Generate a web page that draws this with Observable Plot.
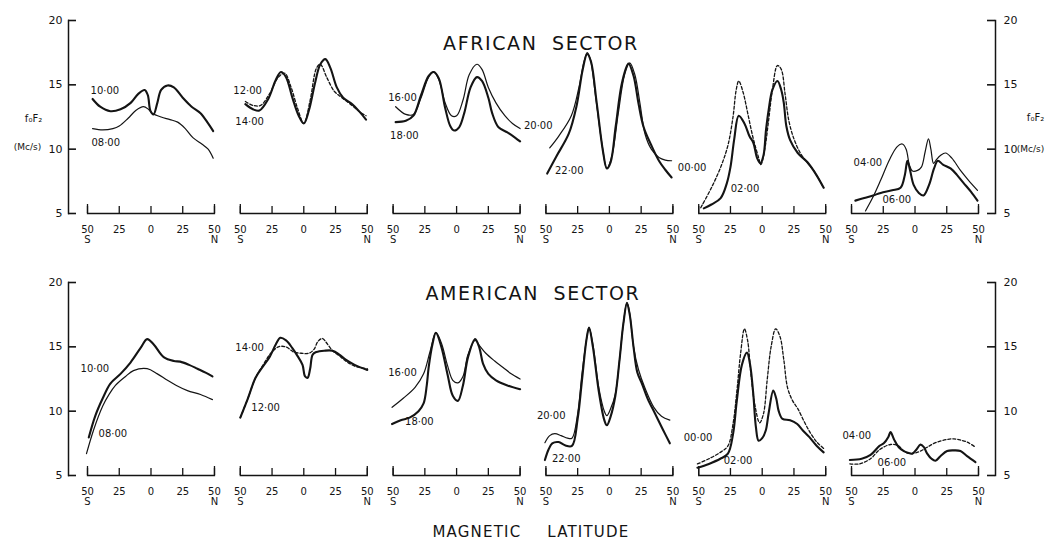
<!DOCTYPE html>
<html><head><meta charset="utf-8">
<script src="https://cdn.jsdelivr.net/npm/d3@7"></script>
<script src="https://cdn.jsdelivr.net/npm/@observablehq/plot@0.6"></script>
<style>
body{margin:0;background:#fff;}
#chart{width:1052px;height:547px;}
</style></head><body><div id="chart"></div>
<script>
const sectors = ["AFRICAN SECTOR", "AMERICAN SECTOR"];
const panels = [0, 1, 2, 3, 4, 5];
const latTicks = [-50, -25, 0, 25, 50];
const foTicks = [5, 10, 15, 20];

// African sector: [magnetic latitude (deg), foF2 (Mc/s)]
const afr0800 = [[-46,11.6],[-38,11.5],[-30,11.6],[-25,11.8],[-18,12.4],[-12,13.0],[-6,13.3],[-2,13.1],[1,12.8],[8,12.5],[15,12.3],[21,12.1],[27,11.6],[33,10.9],[40,10.4],[45,10.0],[49,9.3]];
const afr1000 = [[-46,13.9],[-40,13.3],[-32,12.95],[-24,13.1],[-16,13.6],[-10,14.3],[-5,14.6],[-2.5,14.2],[-0.5,13.0],[2,12.7],[5,13.6],[8,14.6],[13,14.95],[18,14.8],[25,14.0],[32,13.3],[39,12.8],[45,12.0],[49,11.4]];
const afr1200 = [[-46,13.7],[-40,13.4],[-34,13.4],[-27,14.3],[-20,15.6],[-15,15.9],[-10,14.8],[-5,13.2],[0,12.0],[5,13.8],[10,16.3],[13,16.6],[18,15.6],[24,14.5],[30,14.0],[38,13.4],[44,12.9],[49,12.6]];
const afr1400 = [[-46,13.5],[-40,13.1],[-35,13.0],[-28,13.9],[-22,15.4],[-18,16.0],[-14,15.6],[-9,14.0],[-4,12.6],[0,12.0],[4,13.0],[9,15.2],[13,16.6],[17,17.0],[21,16.3],[26,14.8],[31,14.0],[38,13.5],[44,12.9],[49,12.3]];
const afr1600 = [[-48,13.3],[-40,12.7],[-34,12.7],[-28,14.0],[-22,15.6],[-18,16.0],[-14,15.4],[-9,13.6],[-4,12.6],[0,12.6],[5,13.8],[10,15.8],[16,16.6],[20,16.2],[25,14.8],[31,13.6],[38,12.6],[44,12.0],[50,11.6]];
const afr1800 = [[-48,12.1],[-40,12.2],[-34,12.6],[-28,14.2],[-22,15.7],[-18,16.0],[-14,15.5],[-9,13.2],[-5,11.8],[-2,11.45],[2,11.7],[6,12.8],[11,14.8],[16,15.6],[20,15.3],[25,14.0],[28,12.8],[33,11.7],[40,11.3],[46,10.9],[50,10.6]];
const afr2000 = [[-47,10.1],[-40,11.0],[-30,12.6],[-24,14.8],[-20,16.8],[-17.5,17.5],[-15,17.0],[-11,14.2],[-6,10.5],[-2,8.5],[2,9.5],[7,12.8],[12,15.8],[16,16.7],[20,15.8],[24,13.6],[28,11.2],[33,10.0],[39,9.35],[44,9.15],[49,9.1]];
const afr2200 = [[-49,8.1],[-42,9.4],[-32,11.2],[-26,13.3],[-21,16.2],[-17.5,17.4],[-14.5,16.8],[-10,13.6],[-5,9.8],[-2,8.5],[1,9.0],[5,11.8],[10,15.2],[15,16.65],[19,15.7],[23,13.5],[27,11.7],[33,10.3],[39,9.1],[44,8.4],[49,7.8]];
const afr0000 = [[-48.4,5.45],[-40,7.0],[-32.7,8.6],[-27,10.3],[-23,12.5],[-20.5,14.6],[-18.5,15.3],[-15,14.4],[-11,12.6],[-7,10.8],[-3,9.4],[-1,8.8],[2,10.0],[5,12.2],[8,14.6],[12,16.5],[15,16.2],[18,14.3],[21,12.2],[25,10.8],[30,9.7],[35,9.0],[40.5,8.35],[45,7.6],[48.4,7.0]];
const afr0200 = [[-46,5.4],[-40,5.7],[-32.7,6.2],[-28,7.3],[-25,8.6],[-22,10.8],[-18.5,12.6],[-14,12.0],[-10,11.0],[-7,10.5],[-4,9.3],[-1.5,8.9],[1,9.5],[3,11.5],[5,13.0],[8,14.6],[12,15.3],[15,14.6],[17,13.6],[19,11.8],[22,10.7],[28,9.7],[35.5,9.0],[42,8.1],[48.4,7.0]];
const afr0400 = [[-39,5.2],[-33,6.3],[-27,7.6],[-20,9.2],[-14,10.2],[-10,10.4],[-7,10.0],[-4.5,8.8],[-2,8.3],[2,8.35],[5,8.6],[8,9.8],[10.6,10.8],[12.5,10.0],[14.6,8.9],[17,9.2],[20,9.5],[24,9.7],[29,9.3],[35.8,8.35],[42,7.6],[49.2,6.8]];
const afr0600 = [[-47,6.0],[-40,6.2],[-33,6.4],[-27,6.6],[-18,6.8],[-11.4,7.0],[-8,8.0],[-6,9.1],[-4,8.4],[-1,7.2],[3,6.6],[6.7,6.4],[11,7.2],[15,8.5],[18,9.1],[22,8.8],[28,8.5],[33,8.0],[38,7.4],[44,6.7],[49.2,6.0]];

// American sector
const am0800 = [[-50.8,6.7],[-45,8.6],[-38,10.4],[-33,11.3],[-28,12.0],[-20,12.7],[-13.8,13.15],[-3,13.3],[5,12.9],[13,12.4],[20,12.0],[28.7,11.6],[39,11.3],[48.4,10.9]];
const am1000 = [[-49,7.95],[-44,9.6],[-38,11.0],[-32,12.15],[-24,12.9],[-16,13.8],[-8.3,14.9],[-3,15.6],[2,15.2],[10,14.2],[18,13.9],[23,13.85],[30,13.6],[36.6,13.3],[43,13.0],[48.4,12.7]];
const am1200 = [[-50,9.5],[-44,11.0],[-38,12.6],[-32,13.5],[-27,14.2],[-22,15.2],[-18.5,15.7],[-14,15.5],[-9,14.9],[-5,14.3],[-1,13.6],[1,12.7],[3,12.6],[5,13.3],[7,14.4],[10,14.6],[16,14.7],[22.6,14.7],[28,14.4],[33,14.0],[40,13.6],[50,13.2]];
const am1400 = [[-50,9.5],[-44,11.0],[-38,12.6],[-32,13.6],[-26,14.5],[-20,15.0],[-14,15.0],[-8,14.6],[-2,14.5],[4,14.5],[8,14.8],[11,15.4],[14.6,15.65],[18,15.3],[22.6,14.7],[28,14.3],[33,13.9],[40,13.5],[50,13.3]];
const am1600 = [[-50.8,10.3],[-42,11.0],[-32.7,11.85],[-26,12.9],[-21,14.6],[-16.3,16.1],[-12,15.3],[-7,13.5],[-3,12.4],[1,12.2],[5,12.7],[9,14.4],[14.6,15.5],[18,15.1],[23,14.5],[30,13.9],[36.6,13.4],[43,12.9],[50,12.5]];
const am1800 = [[-50.8,9.0],[-44,9.3],[-37,9.5],[-30,10.0],[-26,10.6],[-23.5,12.0],[-22,13.4],[-19,15.2],[-16.3,16.1],[-12,15.0],[-7,12.8],[-3,11.2],[1,10.8],[5,12.0],[9,14.2],[14.6,15.6],[18,14.9],[20.8,13.7],[25,12.9],[31,12.4],[40,12.0],[50,11.7]];
const am2000 = [[-50.8,7.55],[-47,8.1],[-43,8.25],[-38,8.1],[-33,7.9],[-29.5,7.9],[-25,9.8],[-21.6,12.9],[-18,15.6],[-16,16.5],[-13,15.2],[-8.3,11.8],[-4,10.0],[-2,9.65],[1,10.2],[4.7,11.35],[8,14.0],[11,16.8],[13.8,18.45],[16,17.6],[19,15.0],[23,13.2],[28,11.8],[35,10.3],[41,9.6],[47.6,9.3]];
const am2200 = [[-50.8,6.2],[-48,7.0],[-45,7.5],[-40,7.6],[-35,7.35],[-29.5,7.3],[-25,9.4],[-21.6,12.4],[-18,15.6],[-16,16.5],[-13,15.0],[-8.3,11.5],[-4,9.3],[-2,8.9],[1,9.6],[4.7,11.2],[8,14.0],[11,16.8],[13.8,18.4],[16,17.5],[19,15.0],[22,13.0],[25.6,12.15],[30,11.0],[36,9.8],[42,8.6],[47.6,7.5]];
const am0000 = [[-51,5.9],[-42,6.3],[-33,6.8],[-27,7.3],[-23,9.0],[-20,11.5],[-17,14.5],[-14,16.4],[-11.5,15.5],[-9,13.0],[-6,10.6],[-2,9.1],[1,9.8],[4,12.5],[7,15.0],[10.6,16.4],[14,15.8],[17,14.0],[20,11.8],[24,10.8],[28,10.2],[33,9.2],[38,8.3],[43,7.6],[48.4,7.1]];
const am0200 = [[-51,5.6],[-42,5.9],[-33,6.3],[-27,6.7],[-23,8.2],[-20,10.8],[-16,13.6],[-12,14.55],[-9.5,13.6],[-7,11.3],[-5,8.8],[-2.8,7.7],[0,7.9],[2.8,8.5],[5,9.8],[8.7,11.6],[11,11.0],[13,10.0],[16,9.4],[22,9.3],[27.6,9.0],[32,8.5],[37,8.0],[43,7.3],[48.4,6.8]];
const am0400 = [[-51.3,6.2],[-42,6.3],[-35,6.6],[-28,7.3],[-24.6,7.5],[-21,8.0],[-19.3,8.37],[-16.5,7.8],[-12.8,7.2],[-8.8,6.9],[-5,6.75],[-2.2,6.7],[1,7.0],[4.3,7.4],[7,7.2],[9.6,6.7],[13,6.3],[16.1,6.15],[20,6.5],[25.3,6.9],[30.6,6.95],[35.8,6.9],[41,6.5],[47.6,6.04]];
const am0600 = [[-51.3,5.9],[-44,5.9],[-35,6.3],[-28,7.0],[-19.3,7.41],[-13,7.3],[-8.8,6.9],[-4,6.7],[0,6.75],[4.3,6.9],[9.6,7.2],[16.1,7.55],[25.3,7.8],[30.6,7.85],[36,7.75],[41,7.6],[47.6,7.2]];

// curve table: sector, panel, local time, line kind, points
const curveTable = [
  [sectors[0], 0, "08·00", "light", afr0800], [sectors[0], 0, "10·00", "heavy", afr1000],
  [sectors[0], 1, "12·00", "broken", afr1200], [sectors[0], 1, "14·00", "heavy", afr1400],
  [sectors[0], 2, "16·00", "light", afr1600], [sectors[0], 2, "18·00", "heavy", afr1800],
  [sectors[0], 3, "20·00", "light", afr2000], [sectors[0], 3, "22·00", "heavy", afr2200],
  [sectors[0], 4, "00·00", "broken", afr0000], [sectors[0], 4, "02·00", "heavy", afr0200],
  [sectors[0], 5, "04·00", "light", afr0400], [sectors[0], 5, "06·00", "heavy", afr0600],
  [sectors[1], 0, "08·00", "light", am0800], [sectors[1], 0, "10·00", "heavy", am1000],
  [sectors[1], 1, "12·00", "heavy", am1200], [sectors[1], 1, "14·00", "broken", am1400],
  [sectors[1], 2, "16·00", "light", am1600], [sectors[1], 2, "18·00", "heavy", am1800],
  [sectors[1], 3, "20·00", "light", am2000], [sectors[1], 3, "22·00", "heavy", am2200],
  [sectors[1], 4, "00·00", "broken", am0000], [sectors[1], 4, "02·00", "heavy", am0200],
  [sectors[1], 5, "04·00", "heavy", am0400], [sectors[1], 5, "06·00", "broken", am0600]
];

// time labels: sector, panel, text, latitude of label start, foF2 of label
const timeLabels = [
  [sectors[0],0,"10·00",-47.6,14.56],[sectors[0],0,"08·00",-46.9,10.5],
  [sectors[0],1,"12·00",-55.5,14.56],[sectors[0],1,"14·00",-53.9,12.15],
  [sectors[0],2,"16·00",-53.9,14.0],[sectors[0],2,"18·00",-52.4,11.06],
  [sectors[0],3,"20·00",-67.3,11.84],[sectors[0],3,"22·00",-42.9,8.34],
  [sectors[0],4,"00·00",-66.5,8.57],[sectors[0],4,"02·00",-24.8,6.94],
  [sectors[0],5,"04·00",-48.4,8.96],[sectors[0],5,"06·00",-25.6,6.09],
  [sectors[1],0,"10·00",-55.5,13.31],[sectors[1],0,"08·00",-41.3,8.26],
  [sectors[1],1,"14·00",-53.9,14.95],[sectors[1],1,"12·00",-41.3,10.28],
  [sectors[1],2,"16·00",-53.9,13.0],[sectors[1],2,"18·00",-40.6,9.2],
  [sectors[1],3,"20·00",-57.1,9.66],[sectors[1],3,"22·00",-45.3,6.32],
  [sectors[1],4,"00·00",-61.8,7.95],[sectors[1],4,"02·00",-30.3,6.17],
  [sectors[1],5,"04·00",-57.1,8.1],[sectors[1],5,"06·00",-29.5,6.0]
].map(([sector, panel, text, lat, fo]) => ({sector, panel, text, lat, fo}));

const rows = curveTable.flatMap(([sector, panel, time, kind, pts]) =>
  pts.map(([lat, fo]) => ({sector, panel, time, kind, key: sector + panel + time, lat, fo})));

const ink = "#141414";
const lineOpts = {fx: "panel", fy: "sector", x: "lat", y: "fo", z: "key", curve: "catmull-rom", stroke: ink, strokeLinejoin: "round", strokeLinecap: "round"};

const chart = Plot.plot({
  width: 1052, height: 547,
  marginLeft: 87, marginRight: 74, marginTop: 20, marginBottom: 72,
  style: {fontFamily: "DejaVu Sans, sans-serif", background: "#fff", color: ink},
  x: {domain: [-50, 50]},
  y: {domain: [5, 20]},
  fx: {domain: panels, paddingInner: 0.169, paddingOuter: 0, round: false, axis: null},
  fy: {domain: sectors, paddingInner: 0.2634, paddingOuter: 0, round: false, axis: null},
  marks: [
    Plot.frame({anchor: "bottom", stroke: ink, strokeWidth: 1.3}),
    Plot.axisX({ticks: latTicks, tickFormat: d => Math.abs(d), tickSize: -7, tickPadding: 19, facetAnchor: null, fontSize: 10, label: null, stroke: ink, strokeWidth: 1.3}),
    Plot.axisX({ticks: [-50, 50], tickFormat: d => d < 0 ? "S" : "N", tickSize: -9, tickPadding: 31, facetAnchor: null, fontSize: 10, label: null, stroke: ink, strokeWidth: 1.3}),
    // left fo axis
    Plot.frame({anchor: "left", dx: -19, facetAnchor: "left", stroke: ink, strokeWidth: 1.5}),
    Plot.ruleY(foTicks, {y: d => d, dx: -19, insetRight: 119, facetAnchor: "left", stroke: ink, strokeWidth: 1.6}),
    Plot.axisY({anchor: "left", ticks: foTicks, tickSize: 0, tickPadding: 6, dx: -19, fontSize: 11, label: null}),
    // right fo axis
    Plot.frame({anchor: "right", dx: 17, facetAnchor: "right", stroke: ink, strokeWidth: 1.5}),
    Plot.ruleY(foTicks, {y: d => d, dx: 17, insetLeft: 119, facetAnchor: "right", stroke: ink, strokeWidth: 1.6}),
    Plot.axisY({anchor: "right", ticks: foTicks, tickSize: 0, tickPadding: 8, dx: 17, fontSize: 11, label: null}),
    Plot.line(rows.filter(d => d.kind === "heavy"), {...lineOpts, strokeWidth: 2.1}),
    Plot.line(rows.filter(d => d.kind === "light"), {...lineOpts, strokeWidth: 1.2}),
    Plot.line(rows.filter(d => d.kind === "broken"), {...lineOpts, strokeWidth: 1.3, strokeDasharray: "3,2"}),
    Plot.text(timeLabels, {fx: "panel", fy: "sector", x: "lat", y: "fo", text: "text", textAnchor: "start", fontSize: 10, fill: ink}),
    Plot.text([sectors[0]], {fx: () => 3, fy: d => d, text: d => d, frameAnchor: "top-left", dx: -5, dy: 16, textAnchor: "middle", fontSize: 19, fill: ink}),
    Plot.text([sectors[1]], {fx: () => 3, fy: d => d, text: d => d, frameAnchor: "top-left", dx: -13, dy: 4, textAnchor: "middle", fontSize: 19, fill: ink}),
    Plot.text(["MAGNETIC LATITUDE"], {fx: () => 3, fy: () => sectors[1], text: d => d, frameAnchor: "bottom-left", dx: -15, dy: 61, textAnchor: "middle", fontSize: 15, fill: ink}),
    Plot.text(["f₀F₂"], {fx: () => 0, fy: () => sectors[0], text: d => d, frameAnchor: "top-left", dx: -54, dy: 94, textAnchor: "middle", fontSize: 10, fill: ink}),
    Plot.text(["(Mc/s)"], {fx: () => 0, fy: () => sectors[0], text: d => d, frameAnchor: "top-left", dx: -60, dy: 123, textAnchor: "middle", fontSize: 9, fill: ink}),
    Plot.text(["f₀F₂"], {fx: () => 5, fy: () => sectors[0], text: d => d, frameAnchor: "top-right", dx: 57, dy: 93, textAnchor: "middle", fontSize: 10, fill: ink}),
    Plot.text(["(Mc/s)"], {fx: () => 5, fy: () => sectors[0], text: d => d, frameAnchor: "top-right", dx: 52, dy: 125, textAnchor: "middle", fontSize: 9, fill: ink})
  ]
});
chart.querySelectorAll("text").forEach(t => {
  const s = t.textContent;
  if (s === "AFRICAN SECTOR" || s === "AMERICAN SECTOR") t.setAttribute("style", "letter-spacing:1.6px;word-spacing:7px");
  if (s === "MAGNETIC LATITUDE") t.setAttribute("style", "letter-spacing:1.2px;word-spacing:20px");
});
document.getElementById("chart").append(chart);
</script></body></html>
